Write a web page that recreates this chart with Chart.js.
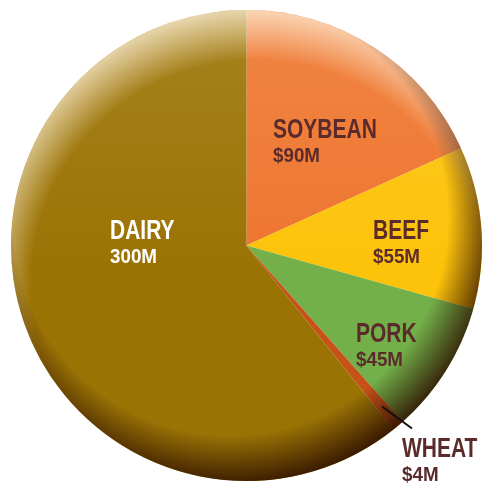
<!DOCTYPE html>
<html>
<head>
<meta charset="utf-8">
<script src="https://cdn.jsdelivr.net/npm/chart.js@4.4.0/dist/chart.umd.min.js"></script>
<style>
  html, body { margin: 0; padding: 0; background: #fff; }
  #wrap { width: 483px; height: 485px; }
</style>
</head>
<body>
<div id="wrap"><canvas id="farmChart" width="483" height="485"></canvas></div>
<script>
// Dados do gráfico (sentido horário a partir do topo)
const labels = ['SOYBEAN', 'BEEF', 'PORK', 'WHEAT', 'DAIRY'];
const valueLabels = ['$90M', '$55M', '$45M', '$4M', '300M'];
const values = [90, 55, 45, 4, 300];
const colors = ['#ee7630', '#fdc30b', '#73b04a', '#c65218', '#9b7305'];

// Posição dos rótulos (x, y da linha de base do título) e cor do texto
const labelPos = [[273, 138], [373, 239], [356, 342], [402, 457], [110, 239]];
const labelColor = ['#5b2b2b', '#5b2b2b', '#5b2b2b', '#5b2b2b', '#ffffff'];

const FONT = '"Liberation Sans", Arial, sans-serif';

// Texto condensado (escala horizontal)
function drawCondensed(c, text, x, y, size, sx) {
  c.save();
  c.translate(x, y);
  c.scale(sx, 1);
  c.font = 'bold ' + size + 'px ' + FONT;
  c.fillText(text, 0, 0);
  c.restore();
}

// Sombreamento tipo "botão" sobre a pizza
const bevelPlugin = {
  id: 'bevel',
  afterDatasetsDraw(chart) {
    const arc = chart.getDatasetMeta(0).data[0];
    const cx = arc.x, cy = arc.y, r = arc.outerRadius;
    const c = chart.ctx;
    c.save();
    c.beginPath();
    c.arc(cx, cy, r, 0, Math.PI * 2);
    c.clip();

    // metade de cima um pouco mais clara
    let g = c.createLinearGradient(0, cy - r, 0, cy + 20);
    g.addColorStop(0, 'rgba(255,240,210,0.12)');
    g.addColorStop(1, 'rgba(255,240,210,0)');
    c.fillStyle = g;
    c.fillRect(cx - r, cy - r, 2 * r, 2 * r);

    // luz vinda de cima / esquerda
    g = c.createRadialGradient(cx + 10, cy + 40, r - 10, cx + 10, cy + 40, r + 42);
    g.addColorStop(0, 'rgba(255,245,225,0)');
    g.addColorStop(1, 'rgba(255,245,225,0.75)');
    c.fillStyle = g;
    c.fillRect(cx - r, cy - r, 2 * r, 2 * r);

    // sombra embaixo / direita
    g = c.createRadialGradient(cx - 16, cy - 28, r - 18, cx - 16, cy - 28, r + 30);
    g.addColorStop(0, 'rgba(45,15,0,0)');
    g.addColorStop(1, 'rgba(45,15,0,0.85)');
    c.fillStyle = g;
    c.fillRect(cx - r, cy - r, 2 * r, 2 * r);
    c.restore();

    // linha de chamada do trigo
    const w = chart.getDatasetMeta(0).data[3];
    const mid = (w.startAngle + w.endAngle) / 2;
    const x0 = cx + Math.cos(mid) * (r - 25);
    const y0 = cy + Math.sin(mid) * (r - 25);
    c.save();
    c.strokeStyle = '#111';
    c.lineWidth = 2;
    c.beginPath();
    c.moveTo(x0, y0);
    c.lineTo(x0 + 30, y0 + 22);
    c.stroke();
    c.restore();

    // rótulos
    c.save();
    c.textAlign = 'left';
    c.textBaseline = 'alphabetic';
    labels.forEach((name, i) => {
      const [x, y] = labelPos[i];
      c.fillStyle = labelColor[i];
      drawCondensed(c, name, x, y, 28, 0.75);
      drawCondensed(c, valueLabels[i], x, y + 24, 20, 0.94);
    });
    c.restore();
  }
};

const ctx = document.getElementById('farmChart').getContext('2d');
const farmChart = new Chart(ctx, {
  type: 'pie',
  data: {
    labels: labels,
    datasets: [{
      data: values,
      backgroundColor: colors,
      borderWidth: 0
    }]
  },
  options: {
    responsive: false,
    animation: false,
    layout: { padding: { left: 11, right: 1, top: 10, bottom: 4 } },
    plugins: {
      legend: { display: false },
      tooltip: { enabled: false }
    }
  },
  plugins: [bevelPlugin]
});
</script>
</body>
</html>
